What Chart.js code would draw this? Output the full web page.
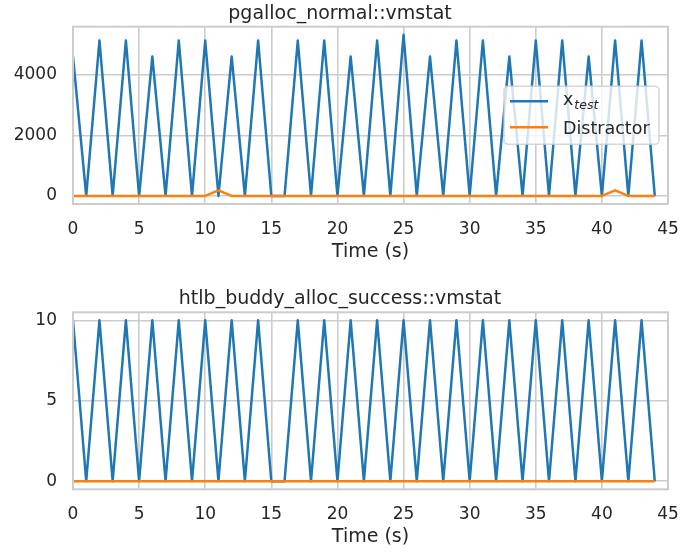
<!DOCTYPE html>
<html>
<head>
<meta charset="utf-8">
<script src="https://cdn.jsdelivr.net/npm/chart.js@4.4.1/dist/chart.umd.min.js"></script>
<style>
  html, body { margin: 0; padding: 0; background: #fff; }
  canvas { display: block; }
</style>
</head>
<body>
<canvas id="chart-pgalloc" width="680" height="276"></canvas>
<canvas id="chart-htlb" width="680" height="276"></canvas>
<script>
// valores (um ponto por segundo)
const timeS = [0, 1, 2, 3, 4, 5, 6, 7, 8, 9, 10, 11, 12, 13, 14, 15, 16, 17, 18, 19, 20, 21,
  22, 23, 24, 25, 26, 27, 28, 29, 30, 31, 32, 33, 34, 35, 36, 37, 38, 39, 40, 41, 42, 43, 44];
const pgallocTest = [4610, 0, 5140, 0, 5140, 0, 4610, 0, 5140, 0, 5140, 0, 4610, 0, 5140, 0, 0,
  5140, 0, 5140, 0, 4610, 0, 5140, 0, 5330, 0, 4610, 0, 5140, 0, 5140, 0, 4610, 0, 5140, 0,
  5140, 0, 4610, 0, 5140, 0, 5140, 0];
const pgallocDistractor = [0, 0, 0, 0, 0, 0, 0, 0, 0, 0, 0, 185, 0, 0, 0, 0, 0, 0, 0, 0, 0, 0,
  0, 0, 0, 0, 0, 0, 0, 0, 0, 0, 0, 0, 0, 0, 0, 0, 0, 0, 0, 185, 0, 0, 0];
const htlbTest = [10, 0, 10, 0, 10, 0, 10, 0, 10, 0, 10, 0, 10, 0, 10, 0, 0, 10, 0, 10, 0, 10,
  0, 10, 0, 10, 0, 10, 0, 10, 0, 10, 0, 10, 0, 10, 0, 10, 0, 10, 0, 10, 0, 10, 0];
const htlbDistractor = [0, 0, 0, 0, 0, 0, 0, 0, 0, 0, 0, 0, 0, 0, 0, 0, 0, 0, 0, 0, 0, 0,
  0, 0, 0, 0, 0, 0, 0, 0, 0, 0, 0, 0, 0, 0, 0, 0, 0, 0, 0, 0, 0, 0, 0];
const timeTicks = [0, 5, 10, 15, 20, 25, 30, 35, 40, 45];
const pgallocTicks = [0, 2000, 4000];
const htlbTicks = [0, 5, 10];
const seriesLabels = ['x_test', 'Distractor'];

const COL = { test: '#1f77b4', distractor: '#ff7f0e', grid: '#cccccc', text: '#262626' };
const FONT = "'DejaVu Sans', sans-serif";

Chart.defaults.font.family = FONT;
Chart.defaults.color = COL.text;

// moldura dos eixos (spines do matplotlib)
const framePlugin = {
  id: 'frame',
  afterDraw(chart) {
    const a = chart.chartArea, ctx = chart.ctx;
    ctx.save();
    ctx.strokeStyle = COL.grid;
    ctx.lineWidth = 2;
    ctx.strokeRect(a.left, a.top, a.right - a.left, a.bottom - a.top);
    ctx.restore();
  },
};

// legenda em caixa dentro da area do grafico (center right)
const boxLegend = {
  id: 'boxLegend',
  afterDraw(chart, args, opts) {
    if (!opts.show) return;
    const a = chart.chartArea, ctx = chart.ctx;
    const w = 155, h = 58;
    const x = a.right - 9 - w, y = (a.top + a.bottom) / 2 - h / 2;
    ctx.save();
    ctx.beginPath();
    ctx.roundRect(x, y, w, h, 4);
    ctx.fillStyle = 'rgba(255,255,255,0.8)';
    ctx.fill();
    ctx.strokeStyle = 'rgba(204,204,204,0.8)';
    ctx.lineWidth = 1.5;
    ctx.stroke();
    chart.data.datasets.forEach((ds, i) => {
      const ly = y + 15 + i * 26;
      ctx.strokeStyle = ds.borderColor;
      ctx.lineWidth = 2.5;
      ctx.beginPath();
      ctx.moveTo(x + 6, ly);
      ctx.lineTo(x + 44, ly);
      ctx.stroke();
      const [main, sub] = ds.label.split('_');
      ctx.fillStyle = COL.text;
      ctx.textBaseline = 'alphabetic';
      ctx.font = `17.5px ${FONT}`;
      const ty = ly + (sub ? 4 : 6.3);
      ctx.fillText(main, x + 59, ty);
      if (sub) {
        const mw = ctx.measureText(main).width;
        ctx.font = `italic 12.5px ${FONT}`;
        ctx.fillText(sub, x + 59 + mw + 1, ty + 3.3);
      }
    });
    ctx.restore();
  },
};

function makeChart(id, title, testData, distData, yTicks, yMin, yMax, showLegend, pad) {
  return new Chart(document.getElementById(id), {
    type: 'line',
    data: {
      datasets: [
        {
          label: seriesLabels[0],
          data: timeS.map((t, i) => ({ x: t, y: testData[i] })),
          borderColor: COL.test, borderWidth: 2.5, pointRadius: 0,
          borderJoinStyle: 'round', tension: 0, order: 1,
        },
        {
          label: seriesLabels[1],
          data: timeS.map((t, i) => ({ x: t, y: distData[i] })),
          borderColor: COL.distractor, borderWidth: 2.5, pointRadius: 0,
          borderJoinStyle: 'round', tension: 0, order: 0,
        },
      ],
    },
    options: {
      responsive: false,
      animation: false,
      events: [],
      layout: { padding: pad },
      plugins: {
        legend: { display: false },
        tooltip: { enabled: false },
        title: {
          display: true, text: title, color: COL.text,
          font: { size: 19, weight: 'normal' },
          padding: { top: 2.3, bottom: 1.6 },
        },
        boxLegend: { show: showLegend },
      },
      scales: {
        x: {
          type: 'linear', min: 0, max: 45,
          afterBuildTicks: (s) => { s.ticks = timeTicks.map((v) => ({ value: v })); },
          afterFit: (s) => { s.height = 59.4; s.paddingLeft = 0; s.paddingRight = 12; },
          ticks: { font: { size: 17 }, padding: 15, maxRotation: 0, autoSkip: false, callback: (v) => String(v) },
          grid: { color: COL.grid, lineWidth: 1.6, drawTicks: false },
          border: { display: false },
          title: { display: true, text: 'Time (s)', font: { size: 19 }, padding: 0 },
        },
        y: {
          type: 'linear', min: yMin, max: yMax,
          afterBuildTicks: (s) => { s.ticks = yTicks.map((v) => ({ value: v })); },
          afterFit: (s) => { s.width = 73; },
          ticks: { font: { size: 17 }, padding: 16, callback: (v) => String(v) },
          grid: { color: COL.grid, lineWidth: 1.6, drawTicks: false },
          border: { display: false },
        },
      },
    },
    plugins: [framePlugin, boxLegend],
  });
}

makeChart('chart-pgalloc', 'pgalloc_normal::vmstat', pgallocTest, pgallocDistractor,
  pgallocTicks, -266.5, 5596.5, true, { top: 0, bottom: 12.6, left: 0, right: 0 });
makeChart('chart-htlb', 'htlb_buddy_alloc_success::vmstat', htlbTest, htlbDistractor,
  htlbTicks, -0.5, 10.5, false, { top: 9.6, bottom: 3.3, left: 0, right: 0 });
</script>
</body>
</html>
